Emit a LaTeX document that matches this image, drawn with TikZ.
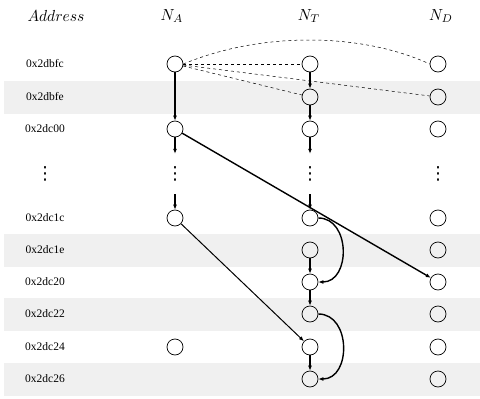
\documentclass[tikz,border=0pt]{standalone}
\usepackage{fontspec}
\setmainfont{Liberation Serif}
\newfontfamily\dotsfont{DejaVu Sans}
\usetikzlibrary{arrows.meta}
\newcommand{\headtext}[1]{\scalebox{1.55}[1.6]{$#1$}}

\begin{document}
\begin{tikzpicture}[x=1pt,y=-1pt,
  cell/.style={draw,circle,minimum size=16pt,inner sep=0pt,line width=0.7pt},
  addr/.style={font=\fontsize{11.5}{13}\selectfont},
  head/.style={font=\fontsize{10}{12}\selectfont},
  gap/.style={inner sep=0pt,minimum height=40pt,font=\dotsfont\fontsize{18}{20}\selectfont},
  band/.style={fill=black!6},
  link/.style={line width=1.4pt,-{Latex[length=5pt,width=4pt]}},
  hint/.style={dashed,line width=0.5pt}]
\useasboundingbox (0,0) rectangle (480,399);
\fill[band] (4,80.5) rectangle (480,113.5);
\fill[band] (4,233.5) rectangle (480,266.5);
\fill[band] (4,297.5) rectangle (480,330.5);
\fill[band] (4,362.5) rectangle (480,395.5);

\node[head] (hAddr) at (56,16) {\headtext{Address}};
\node[head] (hA) at (172,16) {\headtext{N_A}};
\node[head] (hT) at (309,16) {\headtext{N_T}};
\node[head] (hD) at (441,16) {\headtext{N_D}};

\foreach \i/\y/\t in {1/64/0x2dbfc,2/97/0x2dbfe,3/129/0x2dc00,4/218/0x2dc1c,5/250/0x2dc1e,
  6/282/0x2dc20,7/314/0x2dc22,8/347/0x2dc24,9/379/0x2dc26}{
  \node[addr] (L\i) at (45,\y) {\t};
  \node[cell] (T\i) at (310,\y) {};
  \node[cell] (D\i) at (438,\y) {};
}
\node[cell] (A1) at (175,64) {};
\node[cell] (A3) at (175,129) {};
\node[cell] (A4) at (175,218) {};
\node[cell] (A8) at (175,347) {};

\node[gap] (dL) at (45,174) {⋮};
\node[gap] (dA) at (175,174) {⋮};
\node[gap] (dT) at (310,174) {⋮};
\node[gap] (dD) at (438,174) {⋮};

% dashed hints from the first N_A entry
\draw[hint] (A1) -- (T1);
\draw[hint] (A1) -- (T2);
\draw[hint] (A1) -- (D2);
\draw[hint] (A1.east) .. controls (260,32) and (360,32) .. (D1.west);

\draw[link] (A1) -- (A3);
\draw[link] (T1) -- (T2);
\draw[link] (T2) -- (T3);
\draw[link] (A3) -- (dA);
\draw[link] (dA) -- (A4);
\draw[link] (T3) -- (dT);
\draw[link] (dT) -- (T4);
\draw[link] (T5) -- (T6);
\draw[link] (T6) -- (T7);
\draw[link] (T8) -- (T9);
\draw[link] (A3) -- (D6);
\draw[link,line width=1pt] (A4) -- (T8);
\draw[link] (T4.east) to[out=0,in=0,looseness=1.3] (T6.east);
\draw[link] (T7.east) to[out=0,in=0,looseness=1.3] (T9.east);
\end{tikzpicture}
\end{document}
